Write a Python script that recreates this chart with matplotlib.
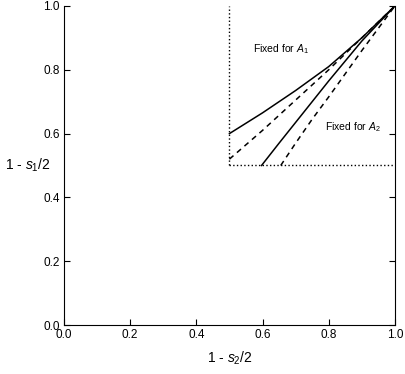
import numpy as np
import matplotlib
matplotlib.use("Agg")
import matplotlib.pyplot as plt

plt.rcParams['font.family'] = ['Liberation Sans', 'DejaVu Sans']
plt.rcParams['mathtext.fontset'] = 'custom'
plt.rcParams['mathtext.rm'] = 'Liberation Sans'
plt.rcParams['mathtext.it'] = 'Liberation Sans:italic'

# boundary curves
a1_solid_x = [0.5, 0.6, 0.7, 0.8, 0.9, 1.0]
a1_solid_y = [0.6, 0.665, 0.735, 0.81, 0.90, 1.0]
a1_dash_x = [0.5, 0.6, 0.7, 0.8, 0.9, 1.0]
a1_dash_y = [0.52, 0.61, 0.705, 0.80, 0.90, 1.0]
a2_solid_x = [0.597, 0.65, 0.7, 0.75, 0.8, 0.9, 1.0]
a2_solid_y = [0.5, 0.57, 0.635, 0.70, 0.765, 0.89, 1.0]
a2_dash_x = [0.655, 0.7, 0.75, 0.8, 0.9, 1.0]
a2_dash_y = [0.5, 0.57, 0.645, 0.715, 0.86, 1.0]

ticks = [0.0, 0.2, 0.4, 0.6, 0.8, 1.0]

fig = plt.figure(figsize=(4.05, 3.74), dpi=100)
ax = fig.add_axes([0.158, 0.131, 0.817, 0.853])

ax.plot(a1_solid_x, a1_solid_y, 'k-', lw=1.1)
ax.plot(a1_dash_x, a1_dash_y, 'k--', lw=1.1, dashes=(3.5, 3))
ax.plot(a2_solid_x, a2_solid_y, 'k-', lw=1.1)
ax.plot(a2_dash_x, a2_dash_y, 'k--', lw=1.1, dashes=(3.5, 3))

# dotted box
ax.plot([0.5, 0.5], [0.5, 1.0], 'k:', lw=1.0)
ax.plot([0.5, 1.0], [0.5, 0.5], 'k:', lw=1.0)

ax.text(0.57, 0.855, r'Fixed for $A_1$', fontsize=7.5)
ax.text(0.79, 0.61, r'Fixed for $A_2$', fontsize=7.5)

ax.set_xlim(0, 1)
ax.set_ylim(0, 1)
ax.set_xticks(ticks)
ax.set_yticks(ticks)
ax.set_xticklabels([f'{t:.1f}' for t in ticks], fontsize=8.5)
ax.set_yticklabels([f'{t:.1f}' for t in ticks], fontsize=8.5)
ax.tick_params(direction='in', length=4, width=0.8, right=True, top=False, pad=3)
ax.spines['top'].set_visible(False)
for s in ['left', 'right', 'bottom']:
    ax.spines[s].set_linewidth(0.8)

ax.set_xlabel(r'1 - $s_2$/2', fontsize=10, labelpad=6)
ax.set_ylabel(r'1 - $s_1$/2', fontsize=10, rotation=0, ha='center', va='center')
ax.yaxis.set_label_coords(-0.11, 0.5)

fig.savefig('out.png', dpi=100)
